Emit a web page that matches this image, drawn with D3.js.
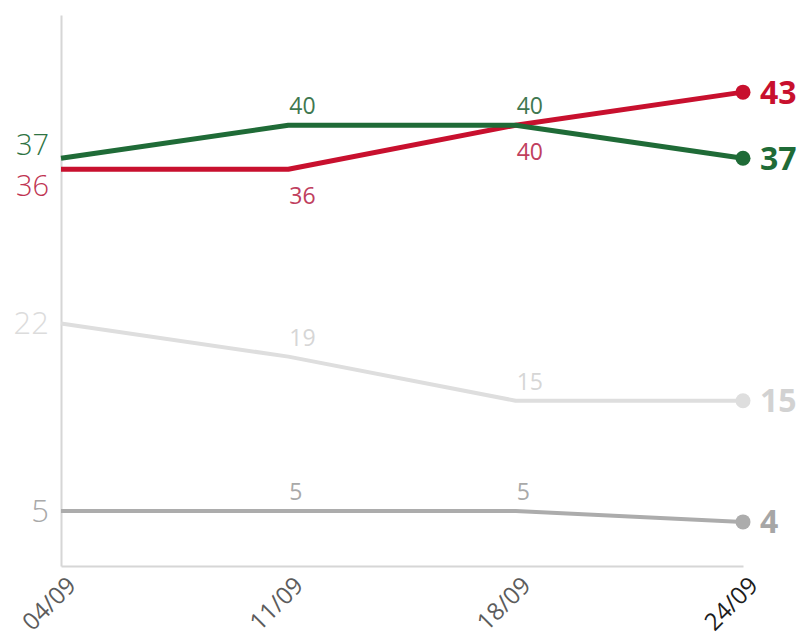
<!DOCTYPE html>
<html>
<head>
<meta charset="utf-8">
<script src="https://cdn.jsdelivr.net/npm/d3@7"></script>
<style>
  html, body { margin: 0; padding: 0; background: #ffffff; }
  svg { display: block; font-family: "Open Sans", "Noto Sans", sans-serif; }
</style>
</head>
<body>
<svg id="chart" width="801" height="636"></svg>
<script>
// Poll dates (x axis)
const dates = ["04/09", "11/09", "18/09", "24/09"];

// Series values, one per date
const greenValues = [37, 40, 40, 37];
const redValues = [36, 36, 40, 43];
const lightGrayValues = [22, 19, 15, 15];
const grayValues = [5, 5, 5, 4];

// Series appearance; startShift moves the first label off the line,
// place says whether inner labels sit above or below it
const series = [
  { values: lightGrayValues, line: "#dedede", start: "#dcdcdc", mid: "#d6d6d6", end: "#d2d2d2", place: "above", width: 4, startShift: 10, startSize: 31 },
  { values: grayValues, line: "#acacac", start: "#a9a9a9", mid: "#a9a9a9", end: "#a6a6a6", place: "above", width: 4, startShift: 11, startSize: 31 },
  { values: redValues, line: "#c8102e", start: "#c03452", mid: "#c0405e", end: "#c8102e", place: "below", width: 5, startShift: 27, startSize: 29 },
  { values: greenValues, line: "#1f6b37", start: "#2f7443", mid: "#3f7850", end: "#1f6b37", place: "above", width: 5, startShift: -3, startSize: 29 }
];

const svg = d3.select("#chart");

const x = d3.scalePoint().domain(dates).range([61, 743]);
const y = d3.scaleLinear().domain([0, 50]).range([566, 15]);

// Axes: plain grey domain lines, no ticks
const yAxis = svg.append("g")
  .attr("transform", "translate(61,0)")
  .call(d3.axisLeft(y).tickValues([]).tickSizeOuter(0));
yAxis.select(".domain").attr("stroke", "#d6d6d6").attr("stroke-width", 2);

const xAxis = svg.append("g")
  .attr("transform", "translate(0,566)")
  .call(d3.axisBottom(x).tickSize(0).tickSizeOuter(0));
xAxis.select(".domain").attr("stroke", "#d6d6d6").attr("stroke-width", 2);
xAxis.selectAll(".tick text")
  .attr("x", 0).attr("y", 0).attr("dy", 0)
  .attr("text-anchor", "end")
  .attr("transform", "translate(16,21) rotate(-45)")
  .style("font-family", "'Open Sans', sans-serif")
  .style("font-size", "24px")
  .attr("fill", (d, i) => i === dates.length - 1 ? "#1c1c1c" : "#5c5c5c");

const line = d3.line()
  .x((d, i) => x(dates[i]))
  .y(d => y(d));

series.forEach(s => {
  const g = svg.append("g");

  g.append("path")
    .datum(s.values)
    .attr("fill", "none")
    .attr("stroke", s.line)
    .attr("stroke-width", s.width)
    .attr("stroke-linejoin", "round")
    .attr("d", line);

  const last = s.values.length - 1;

  // End marker
  g.append("circle")
    .attr("cx", x(dates[last]))
    .attr("cy", y(s.values[last]))
    .attr("r", 7.5)
    .attr("fill", s.line);

  // Start value, left of the axis
  g.append("text")
    .attr("x", 49)
    .attr("y", y(s.values[0]) + s.startShift)
    .attr("text-anchor", "end")
    .style("font-size", s.startSize + "px")
    .style("font-weight", 300)
    .attr("fill", s.start)
    .text(s.values[0]);

  // Inner values
  s.values.slice(1, last).forEach((v, j) => {
    const i = j + 1;
    g.append("text")
      .attr("x", x(dates[i]) + 1)
      .attr("y", y(v) + (s.place === "above" ? -11 : 35))
      .attr("text-anchor", "start")
      .style("font-size", "23px")
      .style("font-weight", 400)
      .attr("fill", s.mid)
      .text(v);
  });

  // Final value, bold, right of the marker
  g.append("text")
    .attr("x", x(dates[last]) + 17)
    .attr("y", y(s.values[last]))
    .attr("dy", "0.36em")
    .attr("text-anchor", "start")
    .style("font-size", "32px")
    .style("font-weight", 700)
    .attr("fill", s.end)
    .text(s.values[last]);
});
</script>
</body>
</html>
